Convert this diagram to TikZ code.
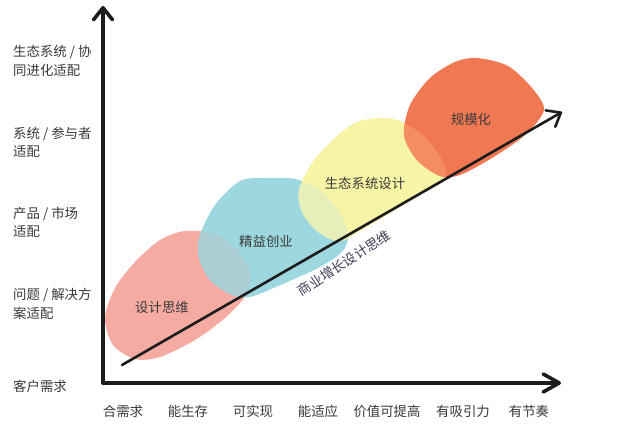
\documentclass[tikz,border=0pt]{standalone}
\usepackage{fontspec}
\newfontfamily\cjk{Noto Sans CJK SC}
\usetikzlibrary{arrows.meta}
\definecolor{txt}{HTML}{3A3A3A}
\definecolor{diagtxt}{HTML}{3D4157}
\definecolor{axisc}{HTML}{1C1C1C}
\definecolor{pinkb}{HTML}{F5ABA2}
\definecolor{cyanb}{HTML}{9DD8E0}
\definecolor{yellowb}{HTML}{F8F4A6}
\definecolor{orangeb}{HTML}{F07853}
\definecolor{lensPC}{HTML}{AACED4}
\definecolor{lensCY}{HTML}{E6EEBA}
\definecolor{lensYO}{HTML}{F48E62}
\newcommand\pinkpath{plot[smooth cycle] coordinates {(185,231) (215,234) (238,250) (250,272) (246,295) (225,318) (195,340) (160,357) (135,359) (113,345) (105,318) (115,288) (135,262) (160,240)}}
\newcommand\cyanpath{plot[smooth cycle] coordinates {(240,181) (265,178) (295,179) (320,190) (338,210) (348,235) (342,252) (318,268) (285,283) (250,297) (230,294) (210,280) (199,258) (200,235) (215,205)}}
\newcommand\yellowpath{plot[smooth cycle] coordinates {(377,118) (400,121) (425,137) (442,160) (445,177) (425,192) (395,210) (365,228) (340,241) (318,232) (302,212) (299,190) (312,163) (335,138) (355,123)}}
\newcommand\orangepath{plot[smooth cycle] coordinates {(477,58) (508,66) (532,88) (544,110) (525,135) (492,158) (460,175) (440,176) (417,160) (404,135) (410,105) (430,78) (455,62)}}
\tikzset{
  lbl/.style={font=\cjk\fontsize{13.4}{18.5}\selectfont, text=txt, inner sep=0pt},
  axisline/.style={draw=axisc, line width=3.6pt, line cap=round, line join=round},
  diagline/.style={draw=axisc, line width=2.6pt, line cap=round, line join=round}
}
\begin{document}
\begin{tikzpicture}[x=1pt,y=-1pt]
\useasboundingbox (0,0) rectangle (621,435);
\fill[white] (0,0) rectangle (621,435);
% blobs
\fill[pinkb] \pinkpath;
\fill[cyanb] \cyanpath;
\fill[yellowb] \yellowpath;
\fill[orangeb] \orangepath;
\begin{scope}\clip \pinkpath; \fill[lensPC] \cyanpath; \end{scope}
\begin{scope}\clip \cyanpath; \fill[lensCY] \yellowpath; \end{scope}
\begin{scope}\clip \yellowpath; \fill[lensYO] \orangepath; \end{scope}
% axes
\coordinate (O) at (103,383);
\coordinate (Ytop) at (103,6);
\coordinate (Xend) at (561,383);
\draw[axisline, -{Straight Barb[length=12pt,width=19pt,round]}] (O) -- (Ytop);
\draw[axisline, -{Straight Barb[length=16pt,width=18pt,round]}] (O) -- (Xend);
% diagonal
\coordinate (S) at (122,365);
\coordinate (E) at (562,112);
\draw[diagline, -{Straight Barb[length=12pt,width=19pt,round]}] (S) -- (E);
\node[lbl, text=diagtxt, rotate=33] (diag) at (344,263) {商业增长设计思维};
% blob labels
\node[lbl] (b1) at (162,307) {设计思维};
\node[lbl] (b2) at (266,241) {精益创业};
\node[lbl] (b3) at (365,183) {生态系统设计};
\node[lbl] (b4) at (471,119) {规模化};
% y labels
\node[lbl, anchor=west, align=left] (y5) at (13,61) {生态系统 / 协\\同进化适配};
\node[lbl, anchor=west, align=left] (y4) at (13,142.5) {系统 / 参与者\\适配};
\node[lbl, anchor=west, align=left] (y3) at (13,222.5) {产品 / 市场\\适配};
\node[lbl, anchor=west, align=left] (y2) at (13,304) {问题 / 解决方\\案适配};
\node[lbl, anchor=west] (y1) at (13,386) {客户需求};
% x labels
\node[lbl] (x1) at (123,411) {合需求};
\node[lbl] (x2) at (188,411) {能生存};
\node[lbl] (x3) at (253,411) {可实现};
\node[lbl] (x4) at (318,411) {能适应};
\node[lbl] (x5) at (387,411) {价值可提高};
\node[lbl] (x6) at (463,411) {有吸引力};
\node[lbl] (x7) at (529,411) {有节奏};
\end{tikzpicture}
\end{document}
